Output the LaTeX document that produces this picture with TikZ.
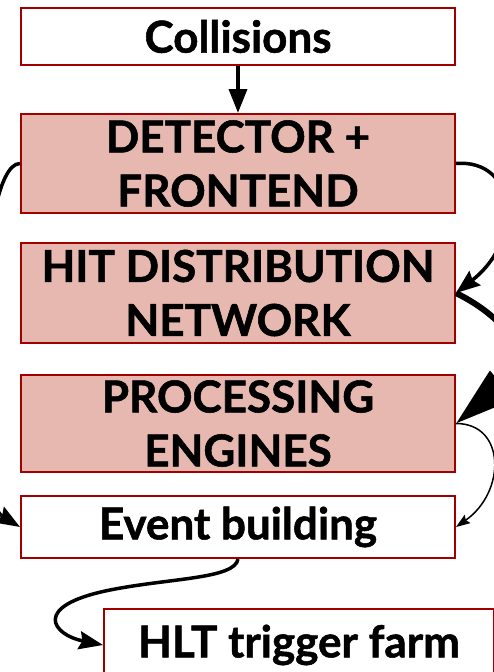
\documentclass[tikz,border=0pt]{standalone}
\usepackage{fontspec}
\setmainfont{Lato}[BoldFeatures={FakeBold=1.2}]
\usetikzlibrary{arrows.meta,calc}
\definecolor{boxred}{HTML}{A00000}
\definecolor{boxfill}{HTML}{E6B8B0}
\tikzset{
  box/.style={draw=boxred, line width=2pt, inner sep=0pt, minimum width=434pt, align=center,
    font=\fontsize{44}{54}\selectfont\bfseries},
  whitebox/.style={box, fill=white},
  pinkbox/.style={box, fill=boxfill},
  conn/.style={line width=3.5pt, -{Stealth[length=24pt,width=18pt,inset=3pt]}},
}
\begin{document}
\begin{tikzpicture}[x=1pt,y=-1pt]
\useasboundingbox (0,0) rectangle (494,672);
\node[whitebox, minimum height=57pt] (col) at (238,36.5) {Collisions};
\node[pinkbox, minimum height=99pt] (det) at (238,163.5) {DETECTOR +\\FRONTEND};
\node[pinkbox, minimum height=100pt] (hit) at (238,293) {HIT DISTRIBUTION\\NETWORK};
\node[pinkbox, minimum height=97pt] (proc) at (238,423.5) {PROCESSING\\ENGINES};
\node[whitebox, minimum height=62pt] (ev) at (238,527) {Event building};
\node[whitebox, minimum height=72pt, minimum width=390pt] (hlt) at (299,645) {HLT trigger farm};
\coordinate (mid) at (110,590);
\draw[line width=3.5pt, -{Triangle[length=24pt,width=18pt]}] (col.south) -- (det.north);
\draw[conn] (det.east) .. controls ($(det.east)+(60,-5)$) and ($(hit.east)+(70,-55)$) .. (hit.east);
\draw[line width=6pt, -{Triangle[length=60pt,width=36pt]}] (hit.east) .. controls ($(hit.east)+(50,25)$) and ($(proc.east)+(80,-67)$) .. (proc.east);
\draw[line width=1.5pt, -{Stealth[length=14pt,width=10pt,inset=2pt]}] (proc.east) .. controls ($(proc.east)+(50,0)$) and ($(ev.east)+(50,-35)$) .. (ev.east);
\draw[conn] (det.west) .. controls ($(det.west)+(-45,0)$) and ($(ev.west)+(-50,-30)$) .. (ev.west);
\draw[conn] (ev.south) .. controls ($(ev.south)+(-3,20)$) and ($(mid)+(60,-12)$) .. (mid) .. controls ($(mid)+(-80,16)$) and ($(hlt.west)+(-50,-10)$) .. (hlt.west);
\end{tikzpicture}
\end{document}
